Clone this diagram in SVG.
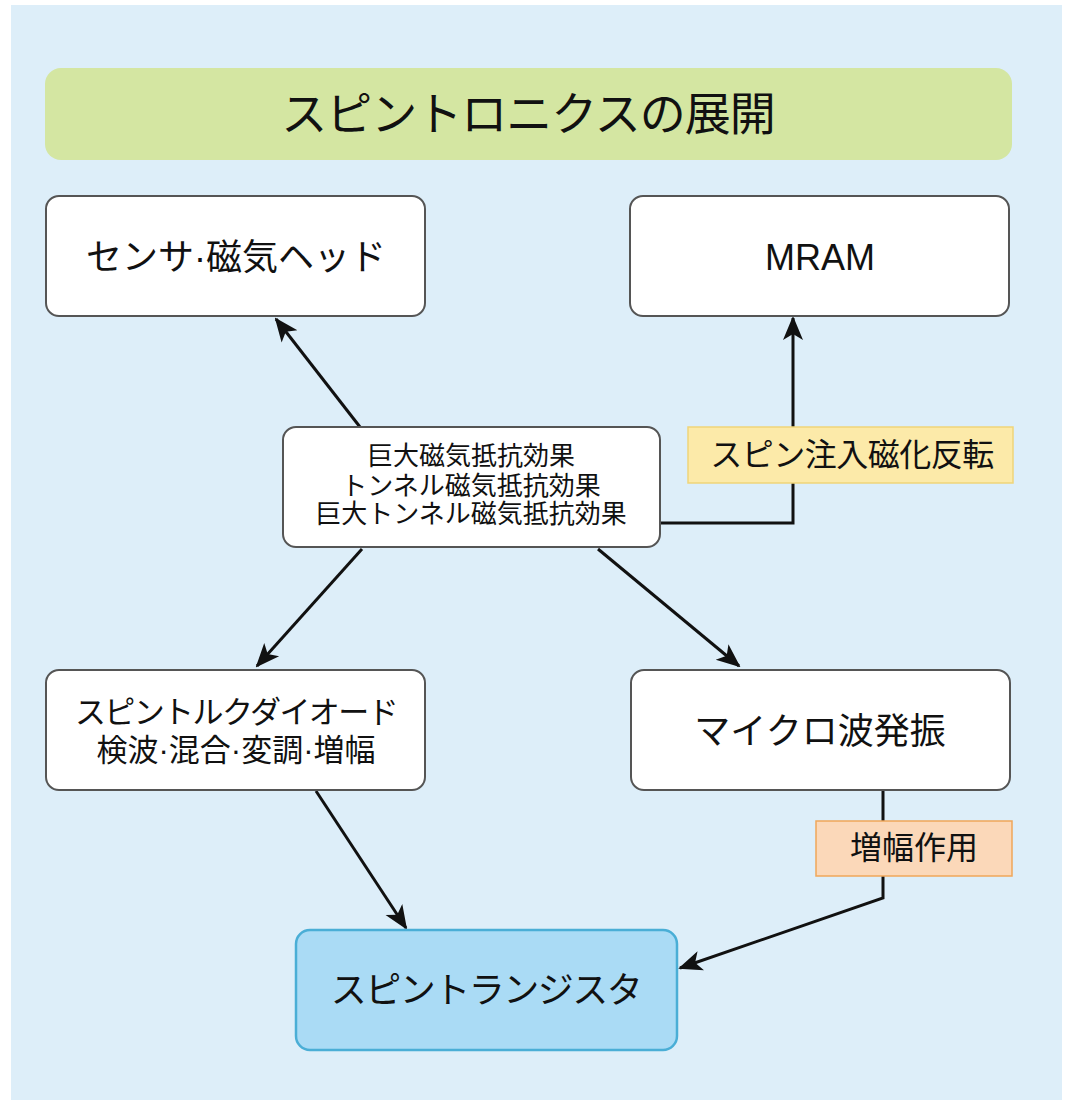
<svg xmlns="http://www.w3.org/2000/svg" width="1068" height="1104" viewBox="0 0 1068 1104">
<style>
text{font-family:"Liberation Sans","Noto Sans CJK JP",sans-serif;fill:#111;text-anchor:middle;dominant-baseline:central}
.box{fill:#ffffff;stroke:#555;stroke-width:2}
.con{fill:none;stroke:#111;stroke-width:3}
</style>
<defs>
<marker id="ah2" markerWidth="24" markerHeight="24" refX="22" refY="12" orient="auto" markerUnits="userSpaceOnUse" viewBox="0 0 24 24">
<path d="M0,2 L24,12 L0,22 L6,12 Z" fill="#111"/>
</marker>
</defs>
<rect x="0" y="0" width="1068" height="1104" fill="#ffffff"/>
<rect x="11" y="5" width="1051" height="1095" fill="#ddeef9"/>
<g id="title">
<rect x="45" y="68" width="967" height="92" rx="16" fill="#d4e6a2"/>
<text x="528" y="114" font-size="46" letter-spacing="-1">スピントロニクスの展開</text>
</g>
<g id="connectors">
<line class="con" x1="360" y1="427" x2="276" y2="319" marker-end="url(#ah2)"/>
<polyline class="con" points="661,523 793,523 793,318" marker-end="url(#ah2)"/>
<line class="con" x1="362" y1="549" x2="257" y2="666" marker-end="url(#ah2)"/>
<line class="con" x1="598" y1="549" x2="739" y2="666" marker-end="url(#ah2)"/>
<line class="con" x1="316" y1="791" x2="406" y2="928" marker-end="url(#ah2)"/>
<polyline class="con" points="883,791 883,898 680,968" marker-end="url(#ah2)"/>
</g>
<g id="sensor">
<rect class="box" x="46" y="196" width="379" height="120" rx="13"/>
<text x="236" y="257" font-size="36">センサ·磁気ヘッド</text>
</g>
<g id="mram">
<rect class="box" x="630" y="196" width="379" height="120" rx="13"/>
<text x="820" y="257" font-size="36">MRAM</text>
</g>
<g id="center">
<rect class="box" x="283" y="427" width="377" height="120" rx="13"/>
<text x="471" y="456" font-size="26">巨大磁気抵抗効果</text>
<text x="471" y="486" font-size="26">トンネル磁気抵抗効果</text>
<text x="471" y="514" font-size="26">巨大トンネル磁気抵抗効果</text>
</g>
<g id="spin-inject">
<rect x="688" y="427" width="325" height="56" fill="#fceaa9" stroke="#efd57a" stroke-width="1.5"/>
<text x="852" y="455" font-size="32" letter-spacing="-0.5">スピン注入磁化反転</text>
</g>
<g id="diode">
<rect class="box" x="46" y="670" width="379" height="120" rx="13"/>
<text x="236" y="712" font-size="31" letter-spacing="-1.6">スピントルクダイオード</text>
<text x="236" y="750" font-size="31">検波·混合·変調·増幅</text>
</g>
<g id="microwave">
<rect class="box" x="631" y="670" width="379" height="120" rx="13"/>
<text x="820" y="731" font-size="36">マイクロ波発振</text>
</g>
<g id="amplify">
<rect x="816" y="821" width="196" height="55" fill="#fbd8b9" stroke="#f0a75a" stroke-width="1.5"/>
<text x="914" y="848" font-size="32">増幅作用</text>
</g>
<g id="transistor">
<rect x="296" y="930" width="381" height="120" rx="14" fill="#aadbf5" stroke="#4aaed6" stroke-width="2.5"/>
<text x="486" y="990" font-size="36" letter-spacing="-1.5">スピントランジスタ</text>
</g>
</svg>
